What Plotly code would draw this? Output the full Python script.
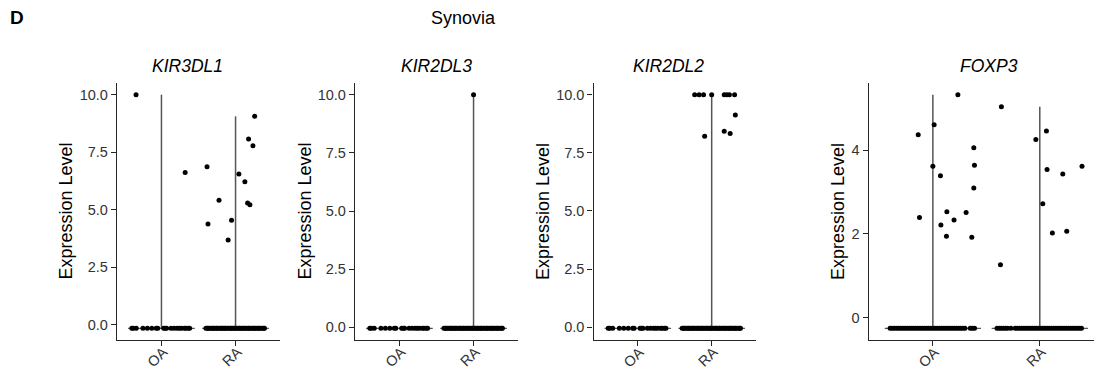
import plotly.graph_objects as go

W, H = 1094, 372

# ---------------- data ----------------
genes = ["KIR3DL1", "KIR2DL3", "KIR2DL2", "FOXP3"]
groups = ["OA", "RA"]
panel_title = "Synovia"
panel_letter = "D"
y_label = "Expression Level"

# expression level shared by all non-expressing cells, per gene
zero_level = [-0.15, -0.04, -0.05, -0.26]

# y tick values
ticks_kir = [0, 2.5, 5, 7.5, 10]
ticks_foxp3 = [0, 2, 4]

# expressing cells: horizontal jitter offset and expression value
kir3dl1_oa_jit = [-0.343, 0.32]
kir3dl1_oa_val = [10.0, 6.62]
kir3dl1_ra_jit = [-0.385, -0.372, -0.223, -0.10, -0.054, 0.045, 0.126, 0.163, 0.194, 0.176, 0.235, 0.258]
kir3dl1_ra_val = [6.87, 4.38, 5.41, 3.69, 4.55, 6.55, 6.22, 5.29, 5.22, 8.08, 7.78, 9.06]

kir2dl3_oa_jit = []
kir2dl3_oa_val = []
kir2dl3_ra_jit = [0.0]
kir2dl3_ra_val = [10.0]

kir2dl2_oa_jit = []
kir2dl2_oa_val = []
kir2dl2_ra_jit = [-0.23, -0.17, -0.11, 0.0, 0.17, 0.205, 0.24, 0.31, -0.095, 0.17, 0.25, 0.32]
kir2dl2_ra_val = [10.0, 10.0, 10.0, 10.0, 10.0, 10.0, 10.0, 10.0, 8.21, 8.43, 8.33, 9.13]

foxp3_oa_jit = [0.234, 0.012, -0.137, 0.383, 0.0, 0.389, 0.071, 0.383, 0.131, 0.311, -0.125, 0.198, 0.075, 0.127, 0.364]
foxp3_oa_val = [5.33, 4.61, 4.37, 4.06, 3.62, 3.64, 3.39, 3.10, 2.53, 2.51, 2.39, 2.33, 2.21, 1.94, 1.92]
foxp3_ra_jit = [-0.359, -0.368, -0.037, 0.062, 0.068, 0.215, 0.395, 0.028, 0.118, 0.252]
foxp3_ra_val = [5.04, 1.26, 4.26, 4.46, 3.54, 3.43, 3.62, 2.72, 2.02, 2.06]

# non-expressing cells: horizontal jitter offsets
oa_zero_sparse_jit = [-0.40, -0.38, -0.34, -0.25, -0.19, -0.13, -0.07, -0.05, 0.03, 0.05,
                      0.07, 0.13, 0.17, 0.21, 0.24, 0.27, 0.31, 0.33, 0.36, 0.38]
ra_zero_dense_jit = [-0.40, -0.38, -0.37, -0.35, -0.33, -0.31, -0.30, -0.28, -0.26, -0.25,
                     -0.23, -0.21, -0.19, -0.18, -0.16, -0.14, -0.13, -0.11, -0.09, -0.07,
                     -0.06, -0.04, -0.02, -0.01, 0.01, 0.03, 0.05, 0.06, 0.08, 0.10,
                     0.11, 0.13, 0.15, 0.17, 0.18, 0.20, 0.22, 0.24, 0.25, 0.27,
                     0.29, 0.31, 0.32, 0.34, 0.36, 0.38, 0.39]
foxp3_oa_zero_jit = [-0.40, -0.38, -0.36, -0.34, -0.32, -0.30, -0.28, -0.26, -0.24, -0.22,
                     -0.20, -0.18, -0.16, -0.14, -0.12, -0.10, -0.08, -0.06, -0.04, -0.02,
                     0.00, 0.02, 0.04, 0.06, 0.08, 0.10, 0.12, 0.14, 0.16, 0.18,
                     0.20, 0.22, 0.24, 0.26, 0.28, 0.30, 0.35, 0.37, 0.39]
foxp3_ra_zero_jit = [-0.40, -0.38, -0.36, -0.34, -0.32, -0.30, -0.27, -0.23, -0.21, -0.19,
                     -0.17, -0.15, -0.13, -0.11, -0.09, -0.07, -0.05, -0.03, -0.01, 0.01,
                     0.03, 0.05, 0.07, 0.09, 0.11, 0.13, 0.15, 0.17, 0.19, 0.21,
                     0.23, 0.25, 0.27, 0.29, 0.31, 0.33, 0.35, 0.37, 0.39]

panels = [
    (kir3dl1_oa_jit, kir3dl1_oa_val, kir3dl1_ra_jit, kir3dl1_ra_val, oa_zero_sparse_jit, ra_zero_dense_jit, ticks_kir),
    (kir2dl3_oa_jit, kir2dl3_oa_val, kir2dl3_ra_jit, kir2dl3_ra_val, oa_zero_sparse_jit, ra_zero_dense_jit, ticks_kir),
    (kir2dl2_oa_jit, kir2dl2_oa_val, kir2dl2_ra_jit, kir2dl2_ra_val, oa_zero_sparse_jit, ra_zero_dense_jit, ticks_kir),
    (foxp3_oa_jit, foxp3_oa_val, foxp3_ra_jit, foxp3_ra_val, foxp3_oa_zero_jit, foxp3_ra_zero_jit, ticks_foxp3),
]

# ---------------- layout geometry (pixels) ----------------
x_dom_px = [(117, 280), (355, 518), (593.5, 756), (868.7, 1094)]
x_rng = [(0.4, 2.6), (0.4, 2.6), (0.4, 2.6), (0.4, 2.507)]
y_dom_px = (83, 340)
title_x_px = [187, 436.7, 668.3, 989]
ylab_x_px = [65, 304, 542.5, 837.5]

FONT = "Liberation Sans, Arial, Helvetica, sans-serif"
LINE_COL = "#555555"
AXIS_COL = "#262626"
HALF_WIDTH = 0.45

fig = go.Figure()
layout = dict(
    width=W, height=H, margin=dict(l=0, r=0, t=0, b=0),
    paper_bgcolor="white", plot_bgcolor="white", showlegend=False,
    font=dict(family=FONT, color="black"),
)
annotations = []

for i, (oj, ov, rj, rv, oz, rz, yt) in enumerate(panels):
    k = "" if i == 0 else str(i + 1)
    xa, ya = "x" + k, "y" + k
    z = zero_level[i]
    all_vals = [z] + ov + rv
    lo, hi = min(all_vals), max(all_vals)
    pad = 0.05 * (hi - lo)

    for gi, (jit, vals, zj) in enumerate([(oj, ov, oz), (rj, rv, rz)]):
        c = gi + 1
        top = max(vals) if vals else z
        # violin outline (degenerate: wide at zero, thin tail to maximum)
        fig.add_trace(go.Scatter(x=[c - HALF_WIDTH, c + HALF_WIDTH], y=[z, z], mode="lines",
                                 line=dict(color=LINE_COL, width=1.3), xaxis=xa, yaxis=ya,
                                 hoverinfo="skip"))
        if top > z:
            fig.add_trace(go.Scatter(x=[c, c], y=[z, top], mode="lines",
                                     line=dict(color=LINE_COL, width=1.5), xaxis=xa, yaxis=ya,
                                     hoverinfo="skip"))
        # cells
        xs = [c + j for j in zj] + [c + j for j in jit]
        ys = [z] * len(zj) + list(vals)
        fig.add_trace(go.Scatter(x=xs, y=ys, mode="markers",
                                 marker=dict(color="black", size=5, line=dict(width=0)),
                                 xaxis=xa, yaxis=ya, cliponaxis=False))
        # rotated category label
        annotations.append(dict(text=groups[gi], x=c, y=1 - 357 / H, xref=xa, yref="paper",
                                xshift=-4, showarrow=False, textangle=-45,
                                xanchor="center", yanchor="middle",
                                font=dict(family=FONT, size=14.5, color="#333333")))

    d0, d1 = x_dom_px[i]
    layout["xaxis" + k] = dict(
        domain=[d0 / W, d1 / W], range=list(x_rng[i]), anchor=ya,
        tickvals=[1, 2], showticklabels=False,
        showline=True, linecolor=AXIS_COL, linewidth=1.3, mirror=False,
        ticks="outside", ticklen=5, tickwidth=1.2, tickcolor=AXIS_COL,
        showgrid=False, zeroline=False,
    )
    layout["yaxis" + k] = dict(
        domain=[1 - y_dom_px[1] / H, 1 - y_dom_px[0] / H], range=[lo - pad, hi + pad], anchor=xa,
        tickvals=yt, tickformat=".1f" if i < 3 else "d",
        showline=True, linecolor=AXIS_COL, linewidth=1.3,
        ticks="outside", ticklen=5, tickwidth=1.2, tickcolor=AXIS_COL,
        showgrid=False, zeroline=False,
        tickfont=dict(family=FONT, size=14.5, color="#333333"),
    )
    annotations.append(dict(text="<i>" + genes[i] + "</i>", x=title_x_px[i] / W, y=1 - 66 / H,
                            xref="paper", yref="paper", showarrow=False, xanchor="center",
                            yanchor="middle", font=dict(family=FONT, size=17.5, color="black")))
    annotations.append(dict(text=y_label, x=ylab_x_px[i] / W, y=1 - 211.5 / H,
                            xref="paper", yref="paper", showarrow=False, textangle=-90,
                            xanchor="center", yanchor="middle",
                            font=dict(family=FONT, size=18, color="black")))

annotations.append(dict(text="<b>" + panel_letter + "</b>", x=17 / W, y=1 - 18 / H, xref="paper",
                        yref="paper", showarrow=False, xanchor="center", yanchor="middle",
                        font=dict(family=FONT, size=19, color="black")))
annotations.append(dict(text=panel_title, x=463.5 / W, y=1 - 18 / H, xref="paper", yref="paper",
                        showarrow=False, xanchor="center", yanchor="middle",
                        font=dict(family=FONT, size=18, color="black")))
layout["annotations"] = annotations

fig.update_layout(**layout)
fig.write_html(
    "out.html",
    config={"displayModeBar": False},
    post_script="document.body.style.margin='0';document.body.style.padding='0';"
                "document.body.style.overflow='hidden';",
)
